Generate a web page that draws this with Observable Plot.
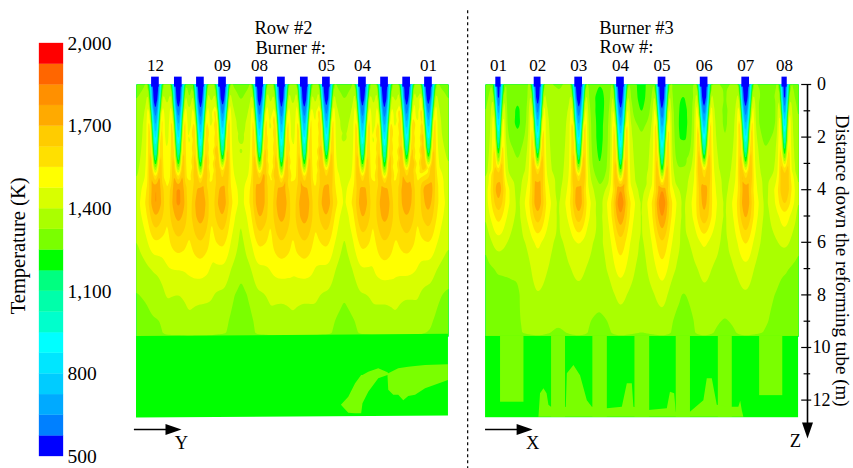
<!DOCTYPE html>
<html><head><meta charset="utf-8">
<script src="https://cdn.jsdelivr.net/npm/d3@7"></script>
<script src="https://cdn.jsdelivr.net/npm/@observablehq/plot@0.6"></script>
<style>
html,body{margin:0;padding:0;background:#fff}
#fig{position:relative;width:853px;height:468px;overflow:hidden}
#fig svg{position:absolute;left:0;top:0;background:transparent}
</style></head><body><div id="fig"></div>
<script>
// Colour bands, 75 K each
const levels = d3.range(500, 2000, 75);
const bandColors = ["#0000ff","#0080ff","#00aaff","#00ccff","#00e6ff","#00ffff","#00ffcc","#00ffaa","#00ff80","#00ff00",
  "#7aff00","#aaff00","#d8ff00","#ffff00","#ffe000","#ffcc00","#ffaa00","#ff9000","#ff6600","#ff0000"];
const barTicks = [500,800,1100,1400,1700,2000];

// Depth rows (m) of all temperature tables
const depths = [0,.5,1,1.5,2,2.5,3,3.5,4,4.5,5,6,7,8,9,9.55];
const offsets = [0,.06,.11,.17,.23,.30,.42,.58];

// Temperature across a jet at the first 8 depth rows (first 6 offsets)
const jet = [
 [505,505,520,600,1350,1340],
 [515,520,540,800,1620,1390],
 [560,600,680,1200,1690,1450],
 [680,720,820,1600,1680,1480],
 [790,850,1080,1760,1620,1490],
 [920,1000,1350,1770,1620,1500],
 [1080,1220,1620,1770,1630,1510],
 [1480,1600,1740,1740,1640,1530]];
const shoulder = [.5,.22];
// Share of the centre-to-gap difference across a plume, rows for depth 4, 4.5, 5, and 6 and below
const plumeShape = [
 [1,.95,.85,.72,.58,.42,.28,.14],
 [1,.95,.86,.76,.62,.45,.33,.18],
 [1,.96,.88,.78,.65,.50,.33,.16],
 [1,.97,.90,.80,.68,.52,.34,.16]];

// Row #2 panel
const yBurnerNames = ["12","11","10","09","08","07","06","05","04","03","02","01"];
const yBurners = [.72,1.59,2.43,3.27,4.68,5.51,6.38,7.22,8.59,9.43,10.27,11.10];
const yNozzle = [.146,.146,.146,.146,.146,.146,.146,.146,.146,.146,.146,.146];
const yTip = [3.2,3.2,3.3,3,3.1,3.3,3.2,3,3.2,3.3,3,2.9];
const yGaps = [0,1.15,2.0,2.85,3.97,5.1,5.95,6.8,7.9,9.0,9.85,10.7,11.86];
const yGapT = [
 [1295,1320,1335,1345,1350,1360,1375,1390,1405,1415,1415,1395,1365,1320,1285,1280],
 [1330,1380,1420,1440,1450,1470,1490,1510,1530,1540,1540,1510,1470,1410,1350,1340],
 [1240,1300,1410,1440,1450,1470,1490,1510,1535,1550,1560,1530,1490,1440,1375,1360],
 [1320,1380,1420,1440,1450,1470,1490,1510,1530,1540,1540,1510,1460,1410,1360,1350],
 [1290,1315,1345,1365,1375,1385,1395,1410,1430,1425,1395,1375,1345,1300,1285,1280],
 [1330,1380,1420,1440,1450,1470,1490,1510,1530,1540,1545,1515,1480,1425,1370,1350],
 [1330,1380,1420,1440,1450,1470,1490,1510,1535,1550,1560,1530,1490,1435,1380,1360],
 [1330,1380,1420,1440,1450,1470,1490,1510,1530,1540,1540,1510,1470,1420,1365,1350],
 [1290,1315,1345,1365,1375,1385,1395,1415,1440,1445,1410,1385,1355,1330,1300,1290],
 [1330,1380,1420,1440,1450,1470,1490,1510,1530,1540,1540,1510,1470,1420,1365,1350],
 [1330,1380,1420,1440,1450,1470,1490,1510,1535,1550,1560,1530,1490,1435,1380,1360],
 [1330,1380,1420,1440,1450,1470,1490,1510,1530,1540,1540,1510,1470,1410,1360,1345],
 [1300,1320,1335,1345,1350,1370,1395,1410,1425,1435,1430,1410,1365,1310,1285,1280]];
const yCenterT = [
 [1790,1790,1700,1540,1410,1360,1320,1310],
 [1800,1800,1730,1600,1480,1400,1355,1345],
 [1740,1770,1740,1620,1510,1420,1365,1350],
 [1740,1760,1700,1570,1460,1385,1345,1330],
 [1785,1770,1710,1570,1460,1390,1345,1335],
 [1750,1770,1730,1620,1510,1420,1360,1350],
 [1740,1770,1740,1620,1510,1420,1360,1350],
 [1745,1765,1700,1570,1460,1390,1350,1335],
 [1745,1760,1710,1580,1470,1395,1345,1330],
 [1740,1765,1730,1620,1520,1420,1365,1350],
 [1790,1760,1700,1590,1500,1410,1355,1345],
 [1790,1740,1680,1550,1440,1375,1335,1320]];

// Burner #3 panel
const xBurnerNames = ["01","02","03","04","05","06","07","08"];
const xBurners = [13.76,15.25,16.81,18.40,19.98,21.58,23.16,24.64];
const xNozzle = [.10,.13,.146,.146,.146,.146,.146,.10];
const xTip = [3,3,3.2,3.4,3.45,3,3.1,3];
const xGaps = [13.27,14.5,16.03,17.6,19.2,20.78,22.37,23.9,25.17];
const xGapT = [
 [1290,1300,1310,1320,1330,1345,1360,1370,1380,1380,1370,1325,1300,1290,1285,1280],
 [1300,1255,1235,1230,1260,1300,1330,1345,1360,1370,1375,1365,1330,1320,1320,1320],
 [1320,1330,1340,1345,1350,1355,1360,1365,1370,1380,1385,1385,1375,1360,1335,1310],
 [1250,1220,1210,1215,1215,1225,1240,1290,1335,1355,1370,1380,1370,1350,1310,1300],
 [1230,1225,1240,1300,1330,1340,1350,1355,1365,1380,1385,1385,1375,1360,1340,1320],
 [1300,1240,1215,1205,1215,1235,1290,1335,1360,1375,1380,1380,1365,1320,1300,1300],
 [1320,1320,1310,1310,1320,1335,1350,1360,1370,1380,1385,1385,1375,1355,1320,1300],
 [1310,1300,1255,1245,1290,1330,1345,1360,1365,1370,1375,1365,1350,1335,1330,1320],
 [1300,1300,1310,1320,1330,1340,1350,1360,1370,1370,1360,1330,1300,1285,1280,1280]];
const xCenterT = [
 [1760,1690,1590,1440,1330,1310,1300,1290],
 [1770,1770,1680,1490,1440,1395,1370,1350],
 [1770,1770,1680,1480,1420,1380,1360,1350],
 [1790,1850,1770,1600,1510,1420,1370,1350],
 [1790,1860,1790,1620,1520,1430,1370,1350],
 [1770,1740,1690,1490,1420,1385,1365,1350],
 [1770,1780,1720,1560,1450,1390,1365,1350],
 [1720,1640,1520,1420,1330,1310,1290,1280]];

// Lower section
const floorT = 1200, ribT = 1290;
const panelEdges = {y:[0,11.86], x:[13.27,25.17]};
const stepDepth = 9.58, floorDepth = 12.65;
const crescentX = [7.79,8.07,8.33,8.56,8.61,8.83,9.21,9.56,9.59,9.78,9.97,10.16,10.35,10.61,10.99,11.86];
const crescentTop = [12.2,11.89,11.38,11.06,11.06,10.94,10.81,10.96,11.0,10.9,10.81,10.78,10.75,10.72,10.68,10.66];
const crescentBottom = [12.2,12.5,12.52,12.52,12.14,11.70,11.19,11.06,11.63,11.82,11.82,12.02,11.86,11.82,11.57,11.25];
const ribLeft = [13.84,15.78,17.35,18.95,20.52,22.12,23.69];
const ribRight = [14.73,16.31,17.90,19.51,21.06,22.65,24.57];
const ribBottom = [12.08,12.65,12.65,12.65,12.65,12.65,11.83];
const moundX = [15.30,15.36,15.49,15.61,15.68,15.93,16.34,16.38,16.63,16.88,17.14,17.33,17.90,18.47,18.66,18.85,18.91,19.48,20.18,20.30,20.46,20.52,21.06,21.57,21.70,21.89,22.08,22.52,22.90,22.97,23.03,23.09];
const moundTop = [12.65,11.76,11.57,11.76,12.2,12.4,12.27,11.0,10.68,11.07,12.02,12.27,12.33,12.27,11.38,11.38,12.27,12.4,12.33,11.70,11.76,12.46,12.46,12.02,11.19,11.19,12.2,12.27,12.27,12.04,12.4,12.65];

const depthTicks = [0,2,4,6,8,10,12];
const minorTicks = [1,3,5,7,9,11];

function field(bx, gx, gapT, centerT, nozzle, tip){
  const pts = [];
  gx.forEach((x,g)=>gapT[g].forEach((t,r)=>pts.push({x,y:depths[r],t})));
  bx.forEach((cx,b)=>{
    depths.forEach((d,r)=>{
      const upper = r < 8;
      const yy = upper ? d*tip[b]/3.2 : d;
      const wid = upper ? nozzle[b]/.146 : 1;
      const shape = plumeShape[Math.min(r-8,3)];
      [[-1,b],[1,b+1]].forEach(([side,g])=>{
        const half = Math.abs(gx[g]-cx), gt = gapT[g][r];
        offsets.forEach((o,i)=>{
          if(i===0 && side===1) return;
          const off = o*wid;
          if(off >= half-.05) return;
          const t = upper
            ? (i<6 ? jet[r][i] : gt+(jet[r][5]-gt)*shoulder[i-6])
            : gt+(centerT[b][r-8]-gt)*shape[i];
          pts.push({x:cx+side*off,y:yy,t});
        });
      });
    });
  });
  return pts;
}
const contourOf = (pts,x1,x2)=>Plot.contour(pts,{x:"x",y:"y",fill:"t",interpolate:"barycentric",
  thresholds:levels,x1,x2,y1:0,y2:stepDepth,pixelSize:1,blur:1,stroke:"none",smooth:true});
const idx = a=>a.map((_,i)=>i);
const nozzles = (bx,hw)=>Plot.rect(idx(bx),{x1:i=>bx[i]-hw[i],x2:i=>bx[i]+hw[i],y1:-.28,y2:.1,fill:()=>500});
const arrowHead = {draw(c){c.moveTo(0,0);c.lineTo(-5.5,16);c.lineTo(5.5,16);c.closePath();}};
const T = (txt,x,y,extra={})=>Plot.text([txt],{x:()=>x,y:()=>y,text:d=>d,fill:"black",...extra});
const colorScale = {type:"threshold",domain:levels.slice(1),range:bandColors};
const fontStyle = {fontFamily:"'Liberation Serif',serif",fontSize:"18.5px",background:"transparent"};

const yLabelled = [0,3,4,7,8,11];
const axisX = 25.51;
const main = Plot.plot({
  width:853,height:468,marginLeft:136,marginRight:46,marginTop:84,marginBottom:30,
  style:fontStyle,
  x:{domain:[0,axisX],axis:null},
  y:{domain:[0,13.46],range:[84,438],axis:null},
  color:colorScale,
  marks:[
    contourOf(field(yBurners,yGaps,yGapT,yCenterT,yNozzle,yTip),panelEdges.y[0],panelEdges.y[1]),
    contourOf(field(xBurners,xGaps,xGapT,xCenterT,xNozzle,xTip),panelEdges.x[0],panelEdges.x[1]),
    Plot.area([0,1],{x1:i=>panelEdges.y[i],y1:i=>[9.58,9.50][i],y2:i=>[12.68,12.60][i],fill:()=>floorT}),
    Plot.area(idx(crescentX),{x1:i=>crescentX[i],y1:i=>crescentTop[i],y2:i=>crescentBottom[i],fill:()=>ribT}),
    Plot.rect([0],{x1:panelEdges.x[0],x2:panelEdges.x[1],y1:stepDepth,y2:floorDepth+.02,fill:()=>floorT}),
    Plot.rect(idx(ribLeft),{x1:i=>ribLeft[i],x2:i=>ribRight[i],y1:stepDepth,y2:i=>ribBottom[i],fill:()=>ribT}),
    Plot.area(idx(moundX),{x1:i=>moundX[i],y1:()=>floorDepth,y2:i=>moundTop[i],fill:()=>ribT}),
    nozzles(yBurners,yNozzle),
    nozzles(xBurners,xNozzle),
    Plot.text(yLabelled,{x:i=>yBurners[i],y:()=>-.72,text:i=>yBurnerNames[i],fill:"black",fontSize:17}),
    Plot.text(idx(xBurners),{x:i=>xBurners[i],y:()=>-.72,text:i=>xBurnerNames[i],fill:"black",fontSize:17}),
    T("Row #2",5.59,-2.13), T("Burner #:",5.86,-1.37),
    T("Burner #3",19.01,-2.13), T("Row #:",18.63,-1.41),
    Plot.ruleX([12.59],{y1:-2.8,y2:14.6,stroke:"black",strokeDasharray:"3,3",strokeWidth:1.2}),
    // depth axis
    Plot.ruleX([axisX],{y1:0,y2:13.1,stroke:"black",strokeWidth:1.6}),
    Plot.ruleY(depthTicks,{x1:axisX-.22,x2:axisX+.16,stroke:"black",strokeWidth:1.2}),
    Plot.ruleY(minorTicks,{x1:axisX-.13,x2:axisX+.12,stroke:"black",strokeWidth:1.2}),
    Plot.axisY({anchor:"right",ticks:depthTicks,tickSize:0,tickPadding:14,textAnchor:"middle",label:null,fontSize:18,fill:"black"}),
    Plot.dot([0],{x:()=>axisX,y:()=>13.46,symbol:arrowHead,rotate:180,fill:"black",stroke:"none"}),
    T("Distance down the reforming tube (m)",26.84,6.7,{rotate:90,fontSize:19}),
    T("Z",25.05,13.54),
    // direction arrows
    Plot.ruleY([13.12],{x1:-.08,x2:1.2,stroke:"black",strokeWidth:1.6}),
    Plot.dot([0],{x:()=>1.71,y:()=>13.12,symbol:arrowHead,rotate:90,fill:"black",stroke:"none"}),
    T("Y",1.71,13.65),
    Plot.ruleY([13.12],{x1:13.27,x2:14.55,stroke:"black",strokeWidth:1.6}),
    Plot.dot([0],{x:()=>15.06,y:()=>13.12,symbol:arrowHead,rotate:90,fill:"black",stroke:"none"}),
    T("X",15.06,13.65)
  ]
});

const bar = Plot.plot({
  width:125,height:468,marginLeft:39,marginRight:62,marginTop:43,marginBottom:12,
  style:{...fontStyle,fontSize:"19.5px"},
  x:{domain:[0,1],axis:null},
  y:{domain:[500,2000],axis:null},
  color:colorScale,
  marks:[
    Plot.rect(levels,{x1:0,x2:1,y1:d=>d,y2:d=>d+75,fill:d=>d,stroke:d=>d,strokeWidth:.3}),
    Plot.axisY({anchor:"right",ticks:barTicks,tickSize:0,tickPadding:4,tickFormat:d3.format(","),label:null,fontSize:19.5,fill:"black"}),
    Plot.text(["Temperature (K)"],{x:()=>-.875,y:()=>1265,text:d=>d,rotate:-90,fill:"black",fontSize:20.5})
  ]
});
const fig = document.getElementById("fig");
fig.append(main,bar);
</script></body></html>
